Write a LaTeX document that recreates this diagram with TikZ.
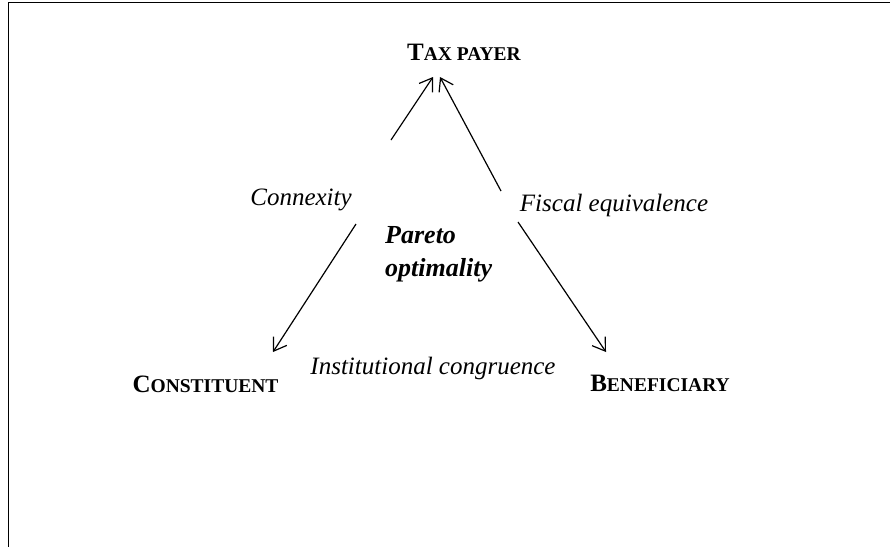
\documentclass[tikz,border=0pt]{standalone}
\usepackage{fontspec}
\setmainfont{Liberation Serif}
\usetikzlibrary{arrows.meta}
\newcommand{\capword}[2]{{\fontsize{25}{30}\selectfont #1}{\fontsize{19.5}{24}\selectfont #2}}
\begin{document}
\begin{tikzpicture}[x = 1pt, y = -1pt,
   actor/.style = {font=\bfseries, inner sep=0pt, anchor=base},
   rule/.style = {font=\itshape\fontsize{25}{30}\selectfont, inner sep=0pt, anchor=base},
   barb/.style = {line width=1.2pt, -{Straight Barb[length=12pt,width=16pt]}}]
   \useasboundingbox (0,0) rectangle (890,547);
   \draw[line width=1.5pt] (890,2.5) -- (8.5,2.5) -- (8.5,547);
   % the three parties
   \node[actor] (tax) at (464,60) {\capword{T}{AX PAYER}};
   \node[actor] (con) at (205.5,392) {\capword{C}{ONSTITUENT}};
   \node[actor] (ben) at (660,391) {\capword{B}{ENEFICIARY}};
   % the rules
   \node[rule] (conx) at (301,205) {Connexity};
   \node[rule] (fisc) at (614,211) {Fiscal equivalence};
   \node[rule] (inst) at (433,374) {Institutional congruence};
   \node[font=\bfseries\itshape\fontsize{26}{33}\selectfont, align=left,
      inner sep=0pt, anchor=north west] (pareto) at (385,226) {Pareto\\optimality};
   % arrow ends
   \coordinate (taxL) at (433,77);
   \coordinate (taxR) at (440,77);
   \coordinate (conT) at (273,352);
   \coordinate (benT) at (606,352);
   \coordinate (conxA) at (391,140);
   \coordinate (conxB) at (356,224);
   \coordinate (fiscA) at (501,191);
   \coordinate (fiscB) at (518,222);
   \draw[barb] (conxA) -- (taxL);
   \draw[barb] (conxB) -- (conT);
   \draw[barb] (fiscA) -- (taxR);
   \draw[barb] (fiscB) -- (benT);
\end{tikzpicture}
\end{document}
